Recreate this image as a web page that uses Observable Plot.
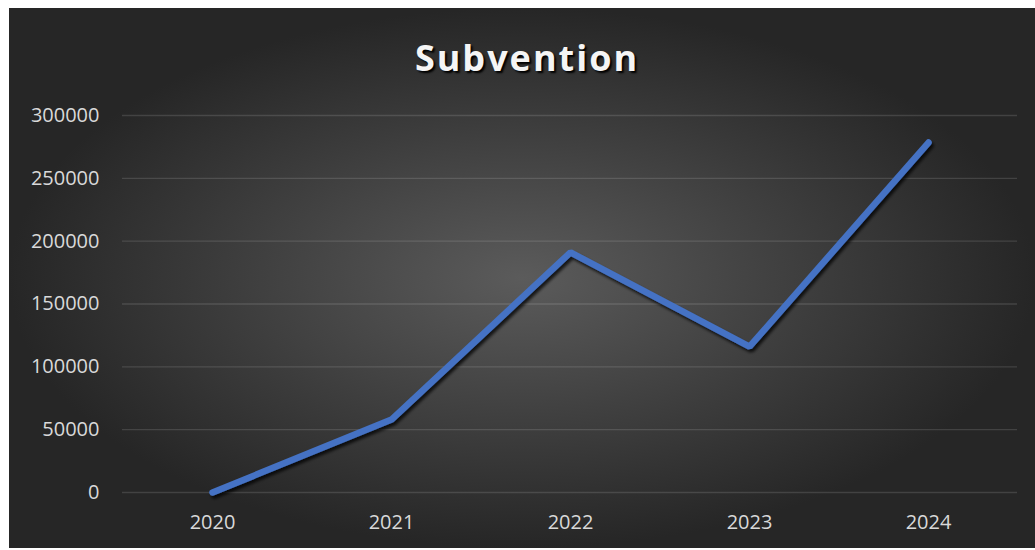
<!DOCTYPE html>
<html>
<head>
<meta charset="utf-8">
<script src="https://cdn.jsdelivr.net/npm/d3@7"></script>
<script src="https://cdn.jsdelivr.net/npm/@observablehq/plot@0.6"></script>
<style>
  html, body { margin: 0; padding: 0; background: #ffffff; }
  #chart {
    position: absolute; left: 9px; top: 8px; width: 1026px; height: 540px;
    background: radial-gradient(ellipse farthest-side at 50% 50%, #5b5b5b 0%, #262626 100%);
    overflow: hidden;
  }
  #title {
    position: absolute; left: 0; top: 30px; width: 1026px; text-align: center;
    font-family: "Open Sans", sans-serif; font-weight: 700; font-size: 36px;
    letter-spacing: 2px; color: #f5f5f5; line-height: 40px;
    text-shadow: 2px 2px 2px #000;
    padding-left: 10px; box-sizing: border-box;
  }
  #plot { position: absolute; left: 0; top: 87px; }
</style>
</head>
<body>
<div id="chart">
  <div id="title">Subvention</div>
  <div id="plot"></div>
</div>
<script>
const years = ["2020", "2021", "2022", "2023", "2024"];
const values = [0, 58000, 191000, 116000, 278500];
const yTicks = [0, 50000, 100000, 150000, 200000, 250000, 300000];

const data = years.map((y, i) => ({year: y, value: values[i]}));

const chart = Plot.plot({
  width: 1026,
  height: 453,
  marginLeft: 113,
  marginRight: 18,
  marginTop: 20,
  marginBottom: 56,
  style: {fontFamily: "Open Sans, sans-serif", fontSize: "20px", color: "#d9d9d9", background: "transparent", overflow: "visible"},
  x: {type: "point", domain: years, padding: 0.5},
  y: {domain: [0, 300000]},
  marks: [
    Plot.gridY(yTicks, {stroke: "#ffffff", strokeOpacity: 0.13, strokeWidth: 1.3}),
    Plot.line(data, {x: "year", y: "value", stroke: "#4472C4", strokeWidth: 6.5, strokeLinecap: "round", strokeLinejoin: "miter"}),
    Plot.axisY(yTicks, {tickSize: 0, tickPadding: 23, tickFormat: d => String(d), label: null, fontSize: 20}),
    Plot.axisX({tickSize: 0, tickPadding: 22, label: null, fontSize: 20})
  ]
});

// drop shadow on the line
const svg = d3.select(chart);
const defs = svg.insert("defs", ":first-child");
const f = defs.append("filter").attr("id", "lineShadow").attr("x", "-10%").attr("y", "-10%").attr("width", "120%").attr("height", "120%");
f.append("feDropShadow").attr("dx", 2).attr("dy", 3).attr("stdDeviation", 1.5).attr("flood-color", "#000").attr("flood-opacity", 0.75);
svg.selectAll("g[aria-label='line'] path").attr("filter", "url(#lineShadow)");

document.getElementById("plot").appendChild(chart);
</script>
</body>
</html>
